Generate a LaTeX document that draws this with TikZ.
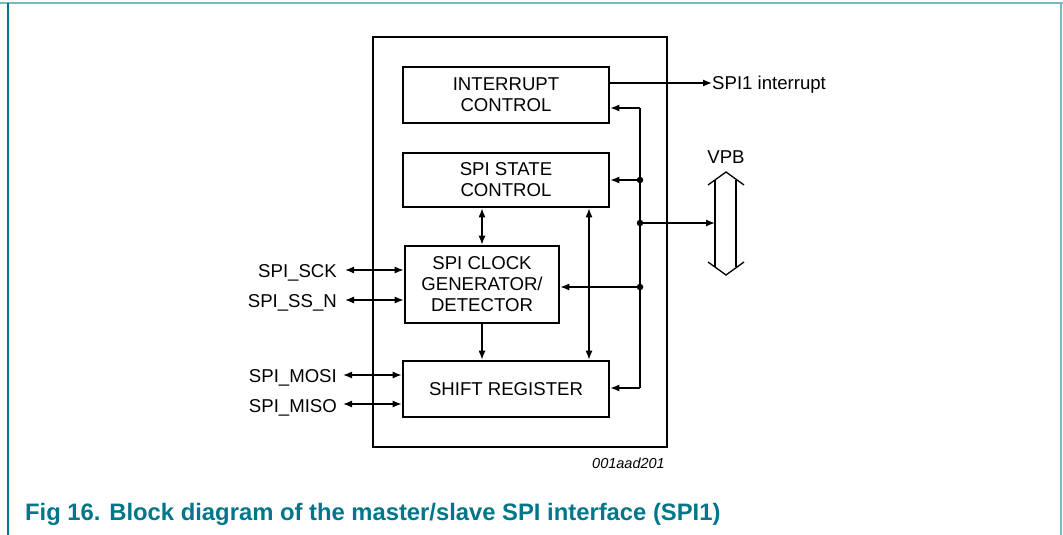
\documentclass[tikz,border=0pt]{standalone}
\usepackage{fontspec}
\setmainfont{Liberation Sans}
\usetikzlibrary{
	arrows.meta,
	positioning
}
\definecolor{capteal}{RGB}{0,118,138}
\definecolor{lightteal}{RGB}{120,184,198}
\tikzset{
	>={Latex[length=9pt,width=7pt]},
	chipbox/.style={draw, line width=2.8pt, minimum width=294pt, minimum height=410pt, inner sep=0pt},
	block/.style={draw, line width=2.6pt, minimum width=206pt, minimum height=56pt,
		align=center, inner sep=0pt, font=\fontsize{18.6}{21}\selectfont},
	sigline/.style={line width=1.3pt},
	signame/.style={font=\fontsize{18.6}{21}\selectfont, inner sep=0pt},
	junction/.style={circle, fill, inner sep=0pt, minimum size=6.5pt}
}

\begin{document}
\begin{tikzpicture}[x=1pt, y=-1pt]
	\useasboundingbox (0,0) rectangle (1063,535);

	% page frame
	\draw[lightteal, line width=2pt] (0,3) -- (1063,3);
	\draw[capteal, line width=1.4pt] (8,3) -- (8,535);
	\draw[lightteal, line width=2pt] (1061,3) -- (1061,535);

	\node[chipbox] (chip) at (520,242) {};
	\node[block] (irq) at (506,95) {INTERRUPT\\CONTROL};
	\node[block, minimum height=54pt] (state) at (506,180) {SPI STATE\\CONTROL};
	\node[block, minimum width=154pt, minimum height=77pt] (clk) at (482,284.5) {SPI CLOCK\\GENERATOR/\\DETECTOR};
	\node[block] (shift) at (506,389) {SHIFT REGISTER};

	% pins
	\node[signame, anchor=base east] (sck) at (337,277) {SPI\_SCK};
	\node[signame, anchor=base east] (ssn) at (337,307) {SPI\_SS\_N};
	\node[signame, anchor=base east] (mosi) at (337,382) {SPI\_MOSI};
	\node[signame, anchor=base east] (miso) at (337,412) {SPI\_MISO};

	\coordinate (sckp) at (345,270);
	\coordinate (ssnp) at (345,300);
	\coordinate (mosip) at (343,375);
	\coordinate (misop) at (343,404);

	\path[sigline]
		(sckp) edge[<->] (sckp -| clk.west)
		(ssnp) edge[<->] (ssnp -| clk.west)
		(mosip) edge[<->] (mosip -| shift.west)
		(misop) edge[<->] (misop -| shift.west)
	;

	% internal paths
	\coordinate (v2) at (589,0);
	\path[sigline]
		(clk.north |- state.south) edge[<->] (clk.north)
		(clk.south) edge[->] (clk.south |- shift.north)
		(v2 |- state.south) edge[<->] (v2 |- shift.north)
	;

	% VPB bus
	\coordinate (b1) at (640,108);
	\coordinate (b2) at (640,180);
	\coordinate (b3) at (640,223);
	\coordinate (b4) at (640,287);
	\coordinate (b5) at (640,388);
	\draw[sigline] (b1) -- (b5);
	\node[junction] at (b2) {};
	\node[junction] at (b3) {};
	\node[junction] at (b4) {};
	\path[sigline, ->]
		(b1) edge (b1 -| irq.east)
		(b2) edge (b2 -| state.east)
		(b4) edge (b4 -| clk.east)
		(b5) edge (b5 -| shift.east)
	;

	\node[signame] (vpblabel) at (726,157) {VPB};
	\draw[line width=1.3pt, line join=miter]
		(708,185) -- (726,172) -- (744,185)
		(708,262) -- (726,275) -- (744,262);
	\draw[line width=1.6pt] (715,180) -- (715,267);
	\draw[line width=1.3pt] (736,180) -- (736,267);
	\coordinate (vpbin) at (715,223);
	\draw[sigline, ->] (b3) -- (vpbin);

	% interrupt output
	\node[signame, anchor=base west] (irqout) at (712,89) {SPI1 interrupt};
	\draw[sigline, ->] (irq.east |- 0,83) -- (irqout.west |- 0,83);

	\node[font=\fontsize{14.5}{16}\selectfont\itshape, anchor=base east, inner sep=0pt] (code) at (665,468) {001aad201};

	\node[font=\fontsize{23.8}{26}\selectfont\bfseries, text=capteal, anchor=base west, inner sep=0pt] (caption) at (25,520)
		{Fig 16. Block diagram of the master/slave SPI interface (SPI1)};
\end{tikzpicture}
\end{document}
